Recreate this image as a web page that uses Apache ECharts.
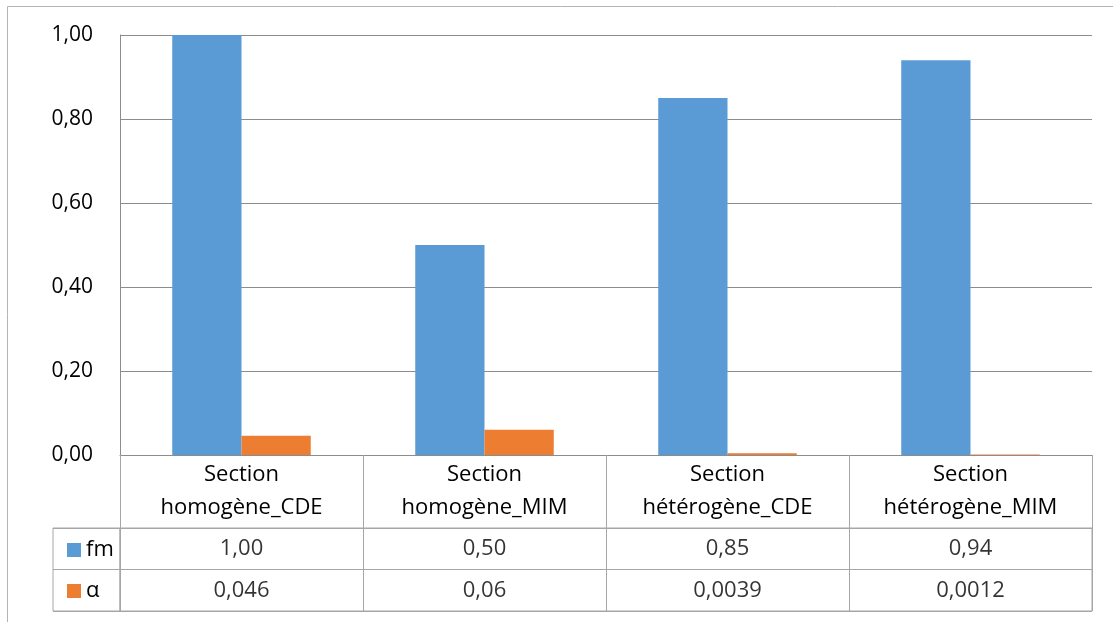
<!DOCTYPE html>
<html>
<head>
<meta charset="utf-8">
<script src="https://cdn.jsdelivr.net/npm/echarts@6/dist/echarts.min.js"></script>
<style>html,body{margin:0;padding:0;background:#fff}#c{width:1113px;height:622px}</style>
</head>
<body>
<div id="c"></div>
<script>
const categories = ['Section homogène_CDE', 'Section homogène_MIM', 'Section hétérogène_CDE', 'Section hétérogène_MIM'];
const fmValues = [1.00, 0.50, 0.85, 0.94];
const alphaValues = [0.046, 0.06, 0.0039, 0.0012];
const seriesNames = ['fm', 'α'];
const yTicks = { min: 0, max: 1, interval: 0.2 };

const FONT = 'Open Sans';
const LINE = '#a6a6a6';
const fmtComma = v => String(v).replace('.', ',');

const tableData = [];
fmValues.forEach((v, i) => tableData.push([i, 1, v.toFixed(2).replace('.', ',')]));
alphaValues.forEach((v, i) => tableData.push([i, 0, fmtComma(v)]));

const chart = echarts.init(document.getElementById('c'));
chart.setOption({
  animation: false,
  textStyle: { fontFamily: FONT },
  graphic: [{
    type: 'rect', shape: { x: 7.5, y: 6.5, width: 1300, height: 800 },
    style: { fill: 'none', stroke: '#b4b4b4', lineWidth: 1 }, silent: true, z: -1
  }],
  legend: {
    data: seriesNames, orient: 'vertical', left: 62, top: 532,
    itemWidth: 14, itemHeight: 14, itemGap: 15, icon: 'rect',
    textStyle: { fontSize: 22, color: '#000', fontFamily: FONT, lineHeight: 26 }
  },
  grid: [
    { left: 120, right: 21, top: 35, bottom: 167 },
    { left: 120, right: 21, top: 528, height: 83, show: true, borderColor: LINE, borderWidth: 1 },
    { left: 53, width: 67, top: 528, height: 83, show: true, borderColor: LINE, borderWidth: 1 }
  ],
  xAxis: [
    {
      gridIndex: 0, type: 'category', data: categories,
      axisLine: { lineStyle: { color: '#8c8c8c' } },
      axisTick: { show: true, length: 73, lineStyle: { color: LINE } },
      axisLabel: {
        fontSize: 22, color: '#000', lineHeight: 33, margin: 3, interval: 0,
        formatter: s => s.replace(' ', '\n')
      }
    },
    {
      gridIndex: 1, type: 'category', data: categories,
      axisLine: { show: false }, axisTick: { show: false }, axisLabel: { show: false },
      splitLine: { show: true, lineStyle: { color: LINE } }
    },
    {
      gridIndex: 2, type: 'category', data: [''],
      axisLine: { show: false }, axisTick: { show: false }, axisLabel: { show: false }
    }
  ],
  yAxis: [
    {
      gridIndex: 0, type: 'value', min: yTicks.min, max: yTicks.max, interval: yTicks.interval,
      axisLine: { show: true, lineStyle: { color: '#8c8c8c' } },
      axisTick: { show: false },
      splitLine: { lineStyle: { color: '#8c8c8c' } },
      axisLabel: { fontSize: 21, color: '#000', margin: 27, formatter: v => v.toFixed(2).replace('.', ',') }
    },
    {
      gridIndex: 1, type: 'category', data: [seriesNames[1], seriesNames[0]],
      axisLine: { show: false }, axisTick: { show: false }, axisLabel: { show: false },
      splitLine: { show: true, lineStyle: { color: LINE } }
    },
    {
      gridIndex: 2, type: 'category', data: [seriesNames[1], seriesNames[0]],
      axisLine: { show: false }, axisTick: { show: false }, axisLabel: { show: false },
      splitLine: { show: true, lineStyle: { color: LINE } }
    }
  ],
  series: [
    {
      name: seriesNames[0], type: 'bar', data: fmValues, xAxisIndex: 0, yAxisIndex: 0,
      barGap: '0%', barCategoryGap: '43%', itemStyle: { color: '#5b9bd5' }
    },
    {
      name: seriesNames[1], type: 'bar', data: alphaValues, xAxisIndex: 0, yAxisIndex: 0,
      barGap: '0%', barCategoryGap: '43%', itemStyle: { color: '#ed7d31' }
    },
    {
      name: 'table', type: 'scatter', xAxisIndex: 1, yAxisIndex: 1,
      data: tableData, symbolSize: 0, silent: true,
      label: { show: true, position: 'inside', fontSize: 22, color: '#000', formatter: p => p.value[2] }
    }
  ]
});
</script>
</body>
</html>
